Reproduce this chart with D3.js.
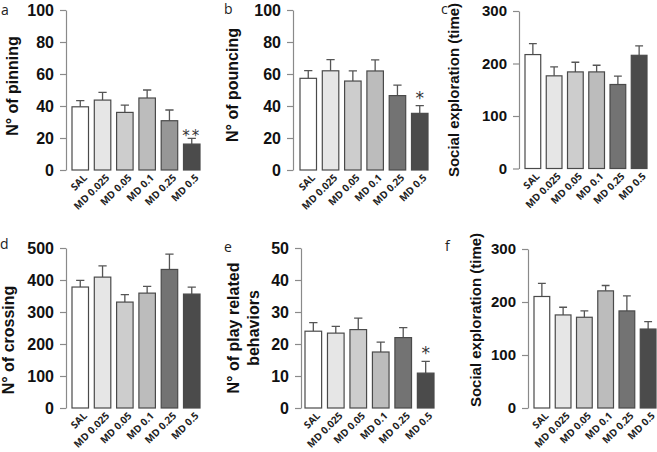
<!DOCTYPE html>
<html>
<head>
<meta charset="utf-8">
<script src="https://cdn.jsdelivr.net/npm/d3@7"></script>
<style>
  body { margin: 0; background: #fff; }
  svg { display: block; }
</style>
</head>
<body>
<div id="chart"></div>
<script>
// groups, same for every panel
const categories = ["SAL", "MD 0.025", "MD 0.05", "MD 0.1", "MD 0.25", "MD 0.5"];

// a - pinning
const pinningMean = [39.5, 43.7, 36, 45, 30.8, 16.2];
const pinningErr  = [3.8, 4.8, 4.6, 5, 6.7, 3.6];
// b - pouncing
const pouncingMean = [57.3, 62, 55.6, 61.9, 46.5, 35.4];
const pouncingErr  = [4.8, 7, 6.3, 6.9, 6.6, 4.8];
// c - social exploration (first)
const socialMean1 = [217, 176.5, 184, 184, 160, 215.6];
const socialErr1  = [21, 17, 18.4, 12.7, 15.8, 17.8];
// d - crossing
const crossingMean = [378, 409, 331, 359, 433, 356];
const crossingErr  = [21, 35, 23, 21, 48, 22];
// e - play related behaviors
const playMean = [24, 23.4, 24.5, 17.5, 22, 10.9];
const playErr  = [2.7, 2.1, 3.6, 3.1, 3.1, 3.7];
// f - social exploration (second)
const socialMean2 = [210.4, 175.6, 171.2, 221, 183.2, 149];
const socialErr2  = [24.6, 14.5, 12, 10.1, 28.4, 14];

// y ticks per panel
const ticks100 = [0, 20, 40, 60, 80, 100];
const ticks300 = [0, 100, 200, 300];
const ticks500 = [0, 100, 200, 300, 400, 500];
const ticks50  = [0, 10, 20, 30, 40, 50];

// significance marks
const pinningSig  = ["", "", "", "", "", "**"];
const pouncingSig = ["", "", "", "", "", "*"];
const playSig     = ["", "", "", "", "", "*"];

const fills = ["#ffffff", "#e6e6e6", "#cdcdcd", "#bcbcbc", "#737373", "#4b4b4b"];

const W = 657, H = 452;

const panels = [
  {letter: "a", lx: 1, ly: 15, mean: pinningMean, err: pinningErr, ticks: ticks100, sig: pinningSig,
   axisX: 66, bars: [72, 200], y: [170, 10], title: ["N° of pinning"], tx: [12], ty: 86, tsize: 16,
   fills: ["#ffffff", "#e6e6e6", "#cdcdcd", "#bcbcbc", "#979797", "#4b4b4b"]},
  {letter: "b", lx: 224, ly: 14, mean: pouncingMean, err: pouncingErr, ticks: ticks100, sig: pouncingSig,
   axisX: 293, bars: [300, 428], y: [170, 10], title: ["N° of pouncing"], tx: [232], ty: 85, tsize: 16},
  {letter: "c", lx: 441, ly: 14, mean: socialMean1, err: socialErr1, ticks: ticks300,
   axisX: 519, bars: [525, 647], y: [168.5, 11], title: ["Social exploration (time)"], tx: [454], ty: 90, tsize: 15},
  {letter: "d", lx: 0, ly: 249, mean: crossingMean, err: crossingErr, ticks: ticks500,
   axisX: 66, bars: [72, 200], y: [408, 248], title: ["N° of crossing"], tx: [8], ty: 340, tsize: 16},
  {letter: "e", lx: 224, ly: 252, mean: playMean, err: playErr, ticks: ticks50, sig: playSig,
   axisX: 301, bars: [305, 434], y: [408, 248], title: ["N° of play related", "behaviors"], tx: [233, 253], ty: 328, tsize: 16},
  {letter: "f", lx: 445, ly: 251, mean: socialMean2, err: socialErr2, ticks: ticks300,
   axisX: 528, bars: [534, 656], y: [408, 249], title: ["Social exploration (time)"], tx: [476], ty: 320, tsize: 15}
];

const svg = d3.select("#chart").append("svg")
  .attr("width", W)
  .attr("height", H)
  .attr("font-family", "'Liberation Sans', Arial, sans-serif");

panels.forEach(p => {
  const g = svg.append("g");
  const maxV = d3.max(p.ticks);

  const y = d3.scaleLinear().domain([0, maxV]).range(p.y);
  const x = d3.scaleBand().domain(categories).range(p.bars)
    .paddingInner(0.26).paddingOuter(0);

  // panel letter
  g.append("text")
    .attr("x", p.lx).attr("y", p.ly)
    .attr("font-family", "'Open Sans', sans-serif")
    .attr("font-size", 14)
    .attr("fill", "#222")
    .text(p.letter);

  // y axis
  const ax = g.append("g")
    .attr("transform", `translate(${p.axisX},0)`)
    .call(d3.axisLeft(y).tickValues(p.ticks).tickSize(6).tickSizeOuter(0).tickPadding(6));
  ax.select(".domain").attr("stroke", "#8a8a8a").attr("stroke-width", 1.2);
  ax.selectAll(".tick line").attr("stroke", "#8a8a8a").attr("stroke-width", 1.2);
  ax.selectAll(".tick text")
    .attr("font-family", "'Liberation Sans', Arial, sans-serif")
    .attr("font-weight", "bold")
    .attr("font-size", p.tsize)
    .attr("fill", "#111");

  // y title
  p.title.forEach((t, i) => {
    g.append("text")
      .attr("transform", `translate(${p.tx[i]},${p.ty}) rotate(-90)`)
      .attr("text-anchor", "middle")
      .attr("dy", "0.35em")
      .attr("font-weight", "bold")
      .attr("font-size", p.tsize)
      .attr("fill", "#111")
      .text(t);
  });

  const data = categories.map((c, i) => ({c, i, m: p.mean[i], e: p.err[i], s: p.sig ? p.sig[i] : ""}));
  const cols = p.fills || fills;

  // error bars (upper only), drawn under the bars
  const cap = x.bandwidth() * 0.25;
  g.selectAll(".err").data(data).join("path")
    .attr("class", "err")
    .attr("fill", "none")
    .attr("stroke", "#555")
    .attr("stroke-width", 1.3)
    .attr("d", d => {
      const cx = x(d.c) + x.bandwidth() / 2;
      return `M${cx},${y(d.m)}V${y(d.m + d.e)}M${cx - cap},${y(d.m + d.e)}H${cx + cap}`;
    });

  // bars
  g.selectAll(".bar").data(data).join("rect")
    .attr("class", "bar")
    .attr("x", d => x(d.c))
    .attr("y", d => y(d.m))
    .attr("width", x.bandwidth())
    .attr("height", d => y(0) - y(d.m))
    .attr("fill", d => cols[d.i])
    .attr("stroke", "#4a4a4a")
    .attr("stroke-width", 1.2);

  // significance
  g.selectAll(".sig").data(data.filter(d => d.s)).join("text")
    .attr("class", "sig")
    .attr("x", d => x(d.c) + x.bandwidth() / 2)
    .attr("y", d => y(d.m + d.e) + (d.s.length > 1 ? 3 : -2))
    .attr("text-anchor", "middle")
    .attr("font-family", "'DejaVu Sans', sans-serif")
    .attr("font-size", d => d.s.length > 1 ? 15 : 17)
    .attr("letter-spacing", d => d.s.length > 1 ? 2 : 0)
    .attr("fill", "#333")
    .text(d => d.s);

  // category labels
  g.selectAll(".cat").data(data).join("text")
    .attr("class", "cat")
    .attr("transform", d => `translate(${x(d.c) + x.bandwidth() / 2 + 5},${y(0) + 6}) rotate(-45)`)
    .attr("text-anchor", "end")
    .attr("dy", "0.35em")
    .attr("font-family", "'Open Sans', sans-serif")
    .attr("font-weight", "bold")
    .attr("font-size", 10)
    .attr("fill", "#222")
    .text(d => d.c);
});
</script>
</body>
</html>
